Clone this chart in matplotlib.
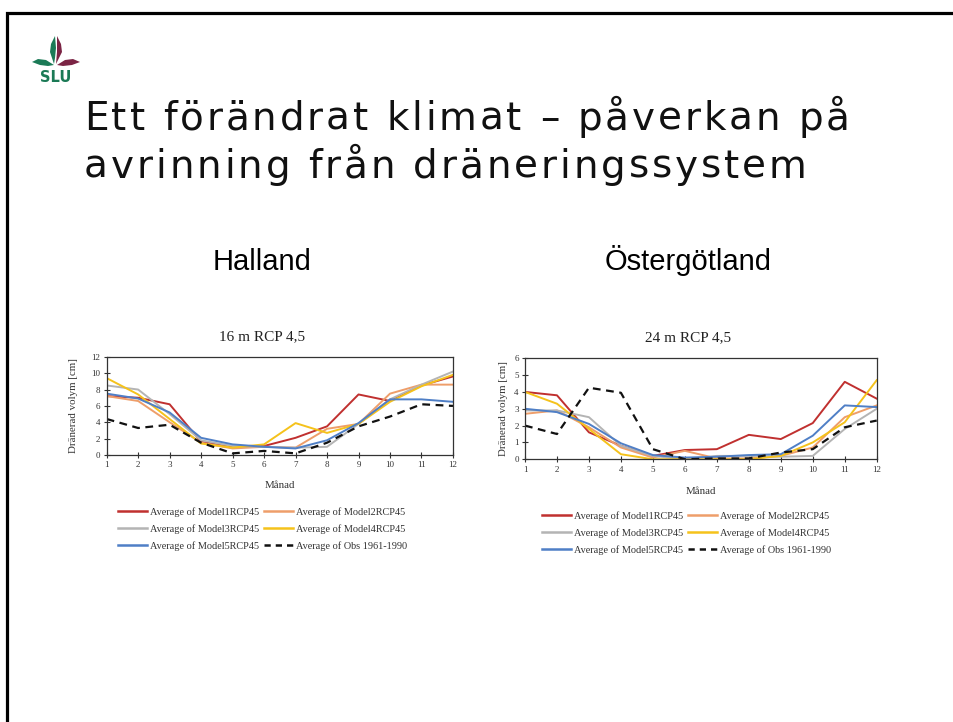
import matplotlib
matplotlib.use("Agg")
import matplotlib.pyplot as plt
from matplotlib.patches import Polygon
from matplotlib.lines import Line2D
from matplotlib import font_manager, ft2font
import numpy as np

months = [1, 2, 3, 4, 5, 6, 7, 8, 9, 10, 11, 12]

# Halland, 16 m RCP 4,5
hal_model1 = [7.2, 7.0, 6.2, 1.6, 1.0, 1.1, 2.1, 3.5, 7.4, 6.6, 8.5, 9.6]
hal_model2 = [7.2, 6.6, 4.0, 1.5, 0.8, 1.0, 0.9, 3.2, 3.8, 7.5, 8.6, 8.6]
hal_model3 = [8.5, 8.0, 5.0, 1.8, 1.1, 1.0, 0.9, 1.0, 3.8, 6.8, 8.6, 10.2]
hal_model4 = [9.4, 7.4, 4.4, 1.4, 0.9, 1.3, 3.9, 2.7, 3.8, 6.5, 8.4, 9.8]
hal_model5 = [7.5, 6.9, 5.2, 2.1, 1.3, 1.0, 0.8, 1.8, 3.9, 6.8, 6.8, 6.5]
hal_obs = [4.4, 3.3, 3.7, 1.5, 0.2, 0.5, 0.2, 1.5, 3.5, 4.7, 6.2, 6.0]

# Östergötland, 24 m RCP 4,5
ost_model1 = [4.0, 3.8, 1.6, 0.8, 0.2, 0.55, 0.6, 1.45, 1.2, 2.15, 4.6, 3.6]
ost_model2 = [2.7, 2.9, 1.9, 0.7, 0.1, 0.5, 0.05, 0.05, 0.2, 0.7, 2.5, 3.2]
ost_model3 = [2.9, 2.9, 2.5, 0.8, 0.2, 0.0, 0.2, 0.2, 0.15, 0.2, 1.8, 3.0]
ost_model4 = [4.0, 3.3, 1.8, 0.3, 0.0, 0.0, 0.0, 0.0, 0.2, 1.0, 2.2, 4.7]
ost_model5 = [3.0, 2.8, 2.1, 0.95, 0.25, 0.1, 0.15, 0.25, 0.3, 1.4, 3.2, 3.1]
ost_obs = [2.0, 1.5, 4.25, 3.95, 0.6, 0.0, 0.05, 0.05, 0.4, 0.6, 1.9, 2.3]

series_labels = ["Average of Model1RCP45", "Average of Model2RCP45",
                 "Average of Model3RCP45", "Average of Model4RCP45",
                 "Average of Model5RCP45", "Average of Obs 1961-1990"]
colors = ["#c0302f", "#ee9e6a", "#b4b4b4", "#f5c21b", "#4f7fc6", "#111111"]
styles = ["-", "-", "-", "-", "-", "--"]

slide_title_lines = ["Ett förändrat klimat – påverkan på",
                     "avrinning från dräneringssystem"]
region_titles = ["Halland", "Östergötland"]
chart_titles = ["16 m RCP 4,5", "24 m RCP 4,5"]
xlabel = "Månad"
ylabel = "Dränerad volym [cm]"

serif = ["Liberation Serif", "DejaVu Serif"]

fig = plt.figure(figsize=(9.54, 7.22), dpi=100)
fig.patch.set_facecolor("white")

# overlay for slide decorations (pixel coords)
deco = fig.add_axes([0, 0, 1, 1])
deco.set_xlim(0, 954)
deco.set_ylim(722, 0)
deco.axis("off")
deco.plot([7.5, 7.5, 960], [730, 12.5, 12.5], color="black", lw=2.3,
          solid_joinstyle="miter")
# SLU logo
green = "#1b7a56"
maroon = "#7b2444"
deco.add_patch(Polygon([[54, 64], [50, 52], [51, 44], [55, 36], [56, 48], [55, 58]],
                       closed=True, color=green, lw=0))
deco.add_patch(Polygon([[56, 64], [57, 52], [57, 36], [61, 44], [62, 52], [58, 60]],
                       closed=True, color=maroon, lw=0))
deco.add_patch(Polygon([[54, 65], [46, 60], [38, 59], [32, 62], [40, 65], [48, 66]],
                       closed=True, color=green, lw=0))
deco.add_patch(Polygon([[57, 65], [65, 60], [73, 59], [80, 62], [72, 65], [63, 66]],
                       closed=True, color=maroon, lw=0))
deco.text(56, 78, "SLU", color=green, fontsize=10.5, fontweight="bold",
          ha="center", va="center", family="DejaVu Sans")

# Slide heading with letter spacing (each character is real text)
head_size = 28
head_track = 2.9
_ft = ft2font.FT2Font(font_manager.findfont(
    font_manager.FontProperties(family="DejaVu Sans")))
_ft.set_size(head_size, 100)


def tracked_text(x0, y0, s):
    x = x0
    for ch in s:
        if ch != " ":
            deco.text(x, y0, ch, fontsize=head_size, family="DejaVu Sans",
                      ha="left", va="baseline", color="#111111")
        x += _ft.load_char(ord(ch)).linearHoriAdvance / 65536.0 + head_track


tracked_text(84, 130, slide_title_lines[0])
tracked_text(84, 178, slide_title_lines[1])

deco.text(262, 270, region_titles[0], fontsize=21, family="Liberation Sans",
          ha="center", va="baseline")
deco.text(688, 270, region_titles[1], fontsize=21, family="Liberation Sans",
          ha="center", va="baseline")

datasets = [
    [hal_model1, hal_model2, hal_model3, hal_model4, hal_model5, hal_obs],
    [ost_model1, ost_model2, ost_model3, ost_model4, ost_model5, ost_obs],
]
axes_pos = [[0.1118, 0.3698, 0.363, 0.136], [0.5503, 0.3639, 0.3687, 0.1399]]
ymax = [12, 6]
yticks = [[0, 2, 4, 6, 8, 10, 12], [0, 1, 2, 3, 4, 5, 6]]
title_x = [0.45, 0.463]
ylab_x = [-0.083, -0.048]
xlab_y = [-0.264, -0.274]
legend_anchor = [(0.1237, 0.2975), (0.5681, 0.2920)]

for i in range(2):
    ax = fig.add_axes(axes_pos[i])
    ax.set_facecolor("white")
    for s, lab, c, ls in zip(datasets[i], series_labels, colors, styles):
        if ls == "--":
            ax.plot(months, s, color=c, lw=1.6, ls=(0, (3.5, 2.5)), label=lab)
        else:
            ax.plot(months, s, color=c, lw=1.4, ls=ls, label=lab)
    ax.set_xlim(1, 12)
    ax.set_ylim(0, ymax[i])
    ax.set_xticks(months)
    ax.set_yticks(yticks[i])
    ax.tick_params(direction="inout", length=5, width=0.8, labelsize=6.5,
                   color="#333333", labelcolor="#333333", pad=2)
    for lbl in ax.get_xticklabels() + ax.get_yticklabels():
        lbl.set_family(serif)
    for sp in ax.spines.values():
        sp.set_color("#333333")
        sp.set_linewidth(0.9)
    ax.set_ylabel(ylabel, family=serif, fontsize=7.8, color="#333333")
    ax.yaxis.set_label_coords(ylab_x[i], 0.5)
    ax.set_xlabel(xlabel, family=serif, fontsize=7.8, color="#333333")
    ax.xaxis.set_label_coords(0.5, xlab_y[i])
    ax.text(title_x[i], 1.2, chart_titles[i], transform=ax.transAxes,
            ha="center", va="center", family=serif, fontsize=11, color="#222222")
    order = [0, 2, 4, 1, 3, 5]
    leg_handles = [Line2D([0], [0], color=colors[k], lw=1.8,
                          ls=(0, (2.5, 2)) if styles[k] == "--" else "-")
                   for k in order]
    fig.legend(leg_handles, [series_labels[k] for k in order], ncol=2,
               loc="upper left", bbox_to_anchor=legend_anchor[i],
               frameon=False, borderpad=0, borderaxespad=0,
               handlelength=2.8, handletextpad=0.3, columnspacing=0.5,
               labelspacing=0.7, prop={"family": serif, "size": 7.4},
               labelcolor="#333333")

fig.savefig("out.png", dpi=100, facecolor="white")
